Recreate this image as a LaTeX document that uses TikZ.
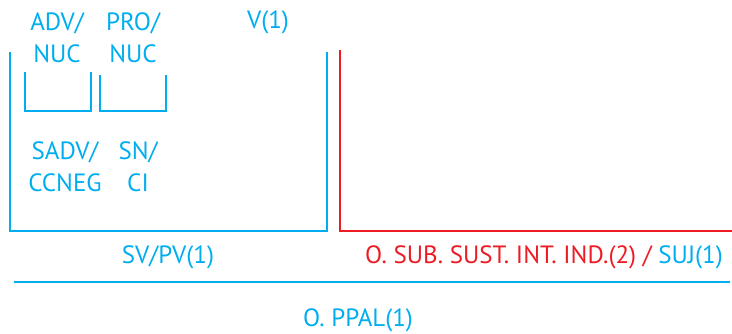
\documentclass[tikz,border=0pt]{standalone}
\usepackage{fontspec}
\setmainfont{PT Sans}
\definecolor{azul}{RGB}{0,174,239}
\definecolor{rojo}{RGB}{237,28,36}
\tikzset{lbl/.style={text=azul,font=\fontsize{25}{32}\selectfont,align=center,inner sep=0pt},
  brk/.style={draw=azul,line width=2.5pt}}
\begin{document}
\begin{tikzpicture}[x=1pt,y=-1pt]
\useasboundingbox (0,0) rectangle (732,334);
\draw [brk] (10,52) -- (10,231) -- (327,231) -- (327,52); \draw [brk,draw=rojo] (340,50) -- (340,231) -- (732,231);
\draw [brk] (25,72) -- (25,111) -- (91,111) -- (91,72); \draw [brk] (100,75) -- (100,111) -- (166,111) -- (166,75);
\draw [brk] (14,282) -- (730,282);
\node [lbl] (advnuc) at (57,38) {ADV/\\NUC}; \node [lbl] (pronuc) at (133,38) {PRO/\\NUC}; \node [lbl] (verbo) at (268,22) {V(1)};
\node [lbl] (sadv) at (65,167) {SADV/\\CCNEG}; \node [lbl] (sn) at (138,167) {SN/\\CI};
\node [lbl] (svpv) at (168,257) {SV/PV(1)};
\node [lbl] (osub) at (544,257) {\color{rojo}O. SUB. SUST. INT. IND.(2) / \color{azul}SUJ(1)};
\node [lbl] (oppal) at (358,320) {O. PPAL(1)};
\end{tikzpicture}
\end{document}
